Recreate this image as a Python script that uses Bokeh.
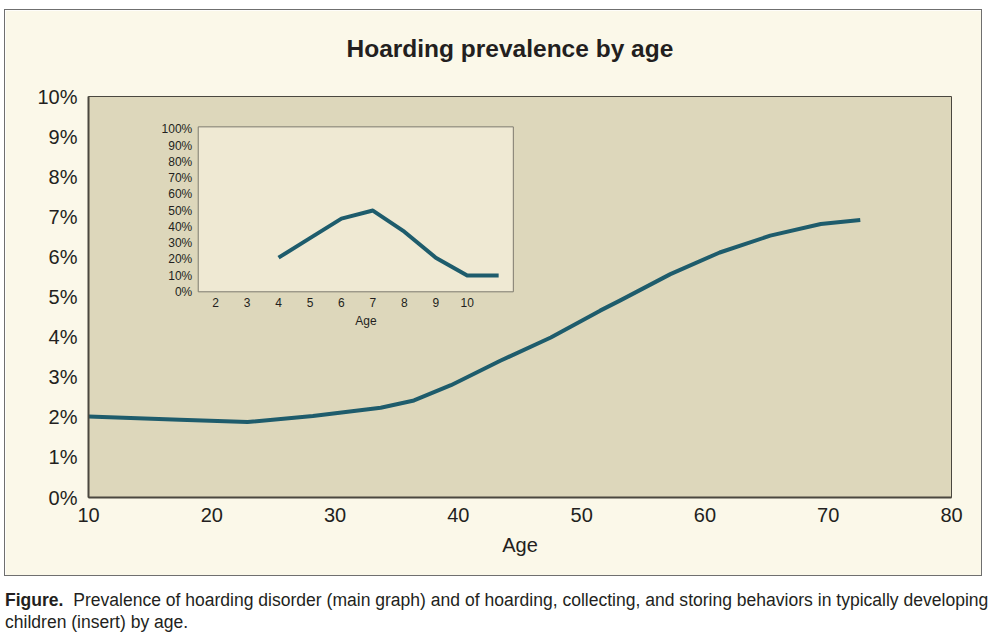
from bokeh.plotting import figure
from bokeh.models import (Range1d, LinearAxis, FixedTicker, PrintfTickFormatter, Div, Title)
from bokeh.layouts import column
from bokeh.embed import file_html
from bokeh.resources import INLINE

# ---- data ----
adult_age = [10.0, 17.4, 22.9, 28.2, 33.7, 36.4, 39.4, 43.4, 47.5, 51.5, 53.1, 57.2, 61.2, 65.3, 69.4, 72.6]
adult_pct = [2.02, 1.94, 1.88, 2.03, 2.24, 2.42, 2.80, 3.41, 3.99, 4.66, 4.91, 5.57, 6.11, 6.53, 6.82, 6.92]
main_x_ticks = [10, 20, 30, 40, 50, 60, 70, 80]
main_y_ticks = [0, 1, 2, 3, 4, 5, 6, 7, 8, 9, 10]

child_age = [4, 5, 6, 7, 8, 9, 10, 11]
child_pct = [21, 33, 45, 50, 37, 21, 10, 10]
inset_x_ticks = [2, 3, 4, 5, 6, 7, 8, 9, 10]
inset_y_ticks = [0, 10, 20, 30, 40, 50, 60, 70, 80, 90, 100]

title_text = "Hoarding prevalence by age"
caption_bold = "Figure."
caption_text = ("Prevalence of hoarding disorder (main graph) and of hoarding, collecting, and storing "
                "behaviors in typically developing")
caption_text2 = "children (insert) by age."

# ---- styles ----
CREAM = "#fbf8e9"
PLOT_BG = "#ddd7bb"
INSET_BG = "#efe9d3"
TEAL = "#1e5c6c"
TXT = "#231f20"
FONT = "Liberation Sans"

p = figure(width=978, height=567, output_backend="svg", toolbar_location=None, title=None,
           x_range=Range1d(10, 80), y_range=Range1d(0, 10),
           min_border_left=83, min_border_right=32, min_border_top=86, min_border_bottom=80)
p.background_fill_color = PLOT_BG
p.border_fill_color = CREAM
p.outline_line_color = "#4a473f"
p.outline_line_width = 1
p.xgrid.visible = False
p.ygrid.visible = False
p.styles = {"border": "1px solid #6f6f6f", "margin-left": "4px", "margin-top": "9px"}

# spacer between frame and title, then the title itself
spacer = Title(text=" ", text_font_size="4px", standoff=26)
p.add_layout(spacer, "above")
main_title = Title(text=title_text, text_font=FONT, text_font_size="24.5px",
                   text_font_style="bold", text_color=TXT, align="left",
                   offset=258, standoff=4)
p.add_layout(main_title, "above")

for ax in (p.xaxis[0], p.yaxis[0]):
    ax.axis_line_color = "#4a473f"
    ax.axis_line_width = 2
    ax.major_tick_line_color = None
    ax.minor_tick_line_color = None
    ax.major_tick_out = 0
    ax.major_tick_in = 0
    ax.minor_tick_out = 0
    ax.minor_tick_in = 0
    ax.major_label_text_font = FONT
    ax.major_label_text_font_size = "20px"
    ax.major_label_text_color = TXT

p.xaxis[0].ticker = FixedTicker(ticks=main_x_ticks)
p.xaxis[0].major_label_standoff = 10
p.xaxis[0].axis_label = "Age"
p.xaxis[0].axis_label_text_font = FONT
p.xaxis[0].axis_label_text_font_size = "20px"
p.xaxis[0].axis_label_text_font_style = "normal"
p.xaxis[0].axis_label_text_color = TXT
p.xaxis[0].axis_label_standoff = 9

p.yaxis[0].ticker = FixedTicker(ticks=main_y_ticks)
p.yaxis[0].formatter = PrintfTickFormatter(format="%d%%")
p.yaxis[0].major_label_standoff = 11

# main curve
p.line(adult_age, adult_pct, line_width=4, color=TEAL, line_join="round")

# ---- inset (own ranges inside the same frame) ----
box_left, box_right, box_top = 1.445, 11.467, 101.5
p.extra_x_ranges = {"ix": Range1d(-2.045, 25.403)}
p.extra_y_ranges = {"iy": Range1d(-126.58, 120.18)}

p.quad(left=box_left, right=box_right, bottom=0, top=box_top,
       x_range_name="ix", y_range_name="iy",
       fill_color=INSET_BG, line_color="#7d7a6e", line_width=1)

ix_axis = LinearAxis(x_range_name="ix", y_range_name="iy", fixed_location=0,
                     bounds=(2, 11.56), ticker=FixedTicker(ticks=inset_x_ticks),
                     axis_label="Age")
iy_axis = LinearAxis(x_range_name="ix", y_range_name="iy", fixed_location=box_left,
                     bounds=(0, 100), ticker=FixedTicker(ticks=inset_y_ticks),
                     formatter=PrintfTickFormatter(format="%d%%"))
for ax in (ix_axis, iy_axis):
    ax.axis_line_color = None
    ax.major_tick_line_color = None
    ax.minor_tick_line_color = None
    ax.major_tick_out = 0
    ax.major_tick_in = 0
    ax.minor_tick_out = 0
    ax.minor_tick_in = 0
    ax.major_label_text_font = FONT
    ax.major_label_text_font_size = "12px"
    ax.major_label_text_color = TXT
ix_axis.major_label_standoff = 6
ix_axis.axis_label_text_font = FONT
ix_axis.axis_label_text_font_size = "12px"
ix_axis.axis_label_text_font_style = "normal"
ix_axis.axis_label_text_color = TXT
ix_axis.axis_label_standoff = 4
iy_axis.major_label_standoff = 6
p.add_layout(ix_axis, "below")
p.add_layout(iy_axis, "left")

p.line(child_age, child_pct, x_range_name="ix", y_range_name="iy",
       line_width=4, color=TEAL, line_join="round")

caption = Div(width=984, height=49, text=(
    f'<div style="font-family: \'{FONT}\', Arial, sans-serif; font-size:17.55px; line-height:22px; '
    f'color:{TXT}; padding-top:8px; white-space:nowrap;"><b>{caption_bold}</b>'
    f'&nbsp;&nbsp;{caption_text}<br>{caption_text2}</div>'))

layout = column(p, caption)
open("out.html", "w").write(file_html(layout, INLINE))
